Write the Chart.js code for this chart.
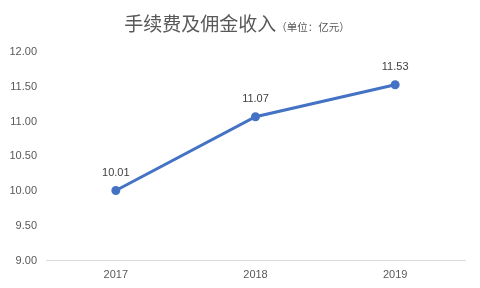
<!DOCTYPE html>
<html>
<head>
<meta charset="utf-8">
<script src="https://cdn.jsdelivr.net/npm/chart.js@4"></script>
<style>
  html, body { margin: 0; padding: 0; background: #fff; }
  #wrap { position: relative; width: 480px; height: 288px; }
  #title {
    position: absolute; left: 0; top: 9px; width: 474px; text-align: center;
    color: #595959; font-family: "Noto Sans CJK SC", sans-serif; white-space: nowrap;
  }
  #title .main { font-size: 19px; }
  #title .unit { font-size: 10.5px; }
  canvas { position: absolute; left: 0; top: 0; }
</style>
</head>
<body>
<div id="wrap">
  <canvas id="income-chart" width="480" height="288"></canvas>
  <div id="title"><span class="main">手续费及佣金收入</span><span class="unit">（单位：亿元）</span></div>
</div>
<script>
'use strict';

const years = ['2017', '2018', '2019'];
const income = [10.01, 11.07, 11.53];
const yMin = 9;
const yMax = 12;
const yStep = 0.5;

// draw the value above each point
const valueLabels = {
    id: 'valueLabels',
    afterDatasetsDraw(chart) {
        const ctx = chart.ctx;
        const meta = chart.getDatasetMeta(0);
        ctx.save();
        ctx.font = '11px "Liberation Sans", Arial, sans-serif';
        ctx.fillStyle = '#404040';
        ctx.textAlign = 'center';
        ctx.textBaseline = 'bottom';
        meta.data.forEach((pt, i) => {
            ctx.fillText(income[i].toFixed(2), pt.x, pt.y - 12);
        });
        ctx.restore();
    }
};

const ctx = document.getElementById('income-chart').getContext('2d');
const incomeChart = new Chart(ctx, {
    type: 'line',
    data: {
        labels: years,
        datasets: [{
            data: income,
            borderColor: '#4472C4',
            backgroundColor: '#4472C4',
            borderWidth: 3,
            pointRadius: 3,
            pointHoverRadius: 3,
            tension: 0
        }]
    },
    options: {
        responsive: false,
        animation: false,
        layout: { padding: { top: 52, right: 15, left: 0, bottom: 6 } },
        plugins: {
            legend: { display: false },
            tooltip: { enabled: false }
        },
        scales: {
            x: {
                offset: true,
                grid: { display: false },
                border: { display: true, color: '#d9d9d9', width: 1 },
                ticks: {
                    color: '#595959',
                    font: { family: '"Liberation Sans", Arial, sans-serif', size: 11 },
                    padding: 0
                }
            },
            y: {
                min: yMin,
                max: yMax,
                grid: { display: false },
                border: { display: false },
                afterFit(scale) { scale.width = 46; },
                ticks: {
                    stepSize: yStep,
                    color: '#595959',
                    font: { family: '"Liberation Sans", Arial, sans-serif', size: 11 },
                    padding: 1,
                    callback: v => Number(v).toFixed(2)
                }
            }
        }
    },
    plugins: [valueLabels]
});
</script>
</body>
</html>
